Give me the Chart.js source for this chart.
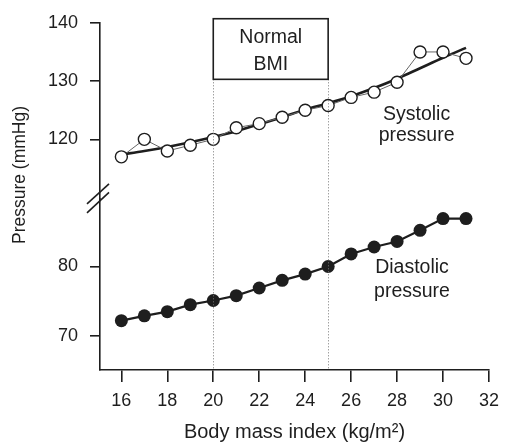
<!DOCTYPE html>
<html><head><meta charset="utf-8">
<script src="https://cdn.jsdelivr.net/npm/chart.js@4.4.0/dist/chart.umd.min.js"></script>
<style>html,body{margin:0;padding:0;background:#fff;}</style>
</head><body>
<canvas id="c" width="507" height="445"></canvas>
<script>
const bmi         = [16,17,18,19,20,21,22,23,24,25,26,27,28,29,30,31];
const systolic    = [117,120,118,119,120,122,122.7,123.8,125,125.8,127.2,128.1,129.8,135,135,133.9];
const systolicFit = [117.4,118.0,118.7,119.5,120.4,121.4,122.6,123.8,125.1,126.2,127.4,128.8,130.4,132.2,134.0,135.7];
const diastolic   = [72.2,72.9,73.5,74.5,75.1,75.8,76.9,78.0,78.9,80.0,81.8,82.8,83.6,85.2,86.9,86.9];
const xTicks   = [16,18,20,22,24,26,28,30,32];
const sysTicks = [120,130,140];
const diaTicks = [70,80];
const normalBMI = [20,25];

const FONT = '"Liberation Sans", Arial, Helvetica, sans-serif';
const INK = '#1e1e1e';
const pts = ys => bmi.map((x,i)=>({x:x,y:ys[i]}));

const annot = {
  id:'annot',
  afterDraw(chart){
    const ctx = chart.ctx, xs = chart.scales.x, ys = chart.scales.ySys, yd = chart.scales.yDia;
    const ca = chart.chartArea;
    const x1 = xs.getPixelForValue(normalBMI[0]), x2 = xs.getPixelForValue(normalBMI[1]);
    const bTop = ys.getPixelForValue(140.7), bBot = ys.getPixelForValue(130.3);
    ctx.save();
    // dotted lines
    ctx.strokeStyle = '#777'; ctx.lineWidth = 1; ctx.setLineDash([1,2]);
    [x1,x2].forEach(x=>{ctx.beginPath();ctx.moveTo(Math.round(x)+0.5,bBot);ctx.lineTo(Math.round(x)+0.5,ca.bottom);ctx.stroke();});
    ctx.setLineDash([]);
    // box
    ctx.fillStyle='#fff';
    ctx.fillRect(x1,bTop,x2-x1,bBot-bTop);
    ctx.strokeStyle = INK; ctx.lineWidth = 1.6;
    ctx.strokeRect(x1,bTop,x2-x1,bBot-bTop);
    ctx.fillStyle = INK; ctx.textAlign='center'; ctx.textBaseline='alphabetic';
    ctx.font = '19.5px '+FONT;
    const cx = (x1+x2)/2;
    ctx.fillText('Normal', cx, bTop+24);
    ctx.fillText('BMI', cx, bTop+51);
    // series labels
    ctx.fillText('Systolic', xs.getPixelForValue(28.85), ys.getPixelForValue(123.3));
    ctx.fillText('pressure', xs.getPixelForValue(28.85), ys.getPixelForValue(119.8));
    ctx.fillText('Diastolic', xs.getPixelForValue(28.65), yd.getPixelForValue(79.0));
    ctx.fillText('pressure', xs.getPixelForValue(28.65), yd.getPixelForValue(75.6));
    // y title
    ctx.save();
    ctx.translate(20, 175);
    ctx.rotate(-Math.PI/2);
    ctx.textBaseline='middle';
    ctx.font = '17.5px '+FONT;
    ctx.fillText('Pressure (mmHg)', 0, 0);
    ctx.restore();
    // axis break
    const B = ys.bottom, ax = ca.left;
    ctx.strokeStyle = INK; ctx.lineWidth = 1.6;
    ctx.beginPath(); ctx.moveTo(ax-13, B+5.5); ctx.lineTo(ax+9, B-14.5); ctx.stroke();
    ctx.beginPath(); ctx.moveTo(ax-13, B+14.5); ctx.lineTo(ax+9, B-6); ctx.stroke();
    ctx.restore();
  }
};

const axisCommon = {
  border:{display:true,color:INK,width:1.6},
  grid:{drawOnChartArea:false,drawTicks:true,tickLength:10,color:INK,lineWidth:1.6},
};

new Chart(document.getElementById('c'), {
  type:'line',
  data:{datasets:[
    {label:'Systolic', data:pts(systolic), yAxisID:'ySys', borderColor:'#666', borderWidth:1,
     pointRadius:6, pointBorderWidth:1.4, pointBorderColor:INK, pointBackgroundColor:'#fff', order:0},
    {label:'Systolic fit', data:pts(systolicFit), yAxisID:'ySys', borderColor:INK, borderWidth:2.6,
     pointRadius:0, cubicInterpolationMode:'monotone', order:1},
    {label:'Diastolic', data:pts(diastolic), yAxisID:'yDia', borderColor:INK, borderWidth:2.2,
     pointRadius:6.5, pointBorderWidth:0, pointBackgroundColor:INK, order:0}
  ]},
  options:{
    responsive:false, animation:false,
    layout:{padding:{top:20,right:10,left:0,bottom:0}},
    plugins:{legend:{display:false},tooltip:{enabled:false}},
    scales:{
      x:{type:'linear', min:15.07, max:32,
        afterBuildTicks:s=>{s.ticks = xTicks.map(v=>({value:v}));},
        afterFit:s=>{s.height=75;},
        border:{display:true,color:INK,width:1.6},
        grid:{drawOnChartArea:false,drawTicks:true,tickLength:12,color:INK,lineWidth:1.6},
        ticks:{font:{size:18,family:FONT},color:INK,padding:8,maxRotation:0},
        title:{display:true,text:'Body mass index (kg/m²)',font:{size:20,family:FONT},color:INK,padding:{top:0,bottom:1}}
      },
      ySys:Object.assign({type:'linear',position:'left',stack:'p',stackWeight:177,weight:2,min:109.87,max:140,
        afterBuildTicks:s=>{s.ticks = sysTicks.map(v=>({value:v}));},
        afterFit:s=>{s.width=100;},
        ticks:{font:{size:18,family:FONT},color:INK,padding:12}},axisCommon),
      yDia:Object.assign({type:'linear',position:'left',stack:'p',stackWeight:173,weight:1,min:65.1,max:89.8,
        afterBuildTicks:s=>{s.ticks = diaTicks.map(v=>({value:v}));},
        afterFit:s=>{s.width=100;},
        ticks:{font:{size:18,family:FONT},color:INK,padding:12}},axisCommon)
    }
  },
  plugins:[annot]
});
</script>
</body></html>
